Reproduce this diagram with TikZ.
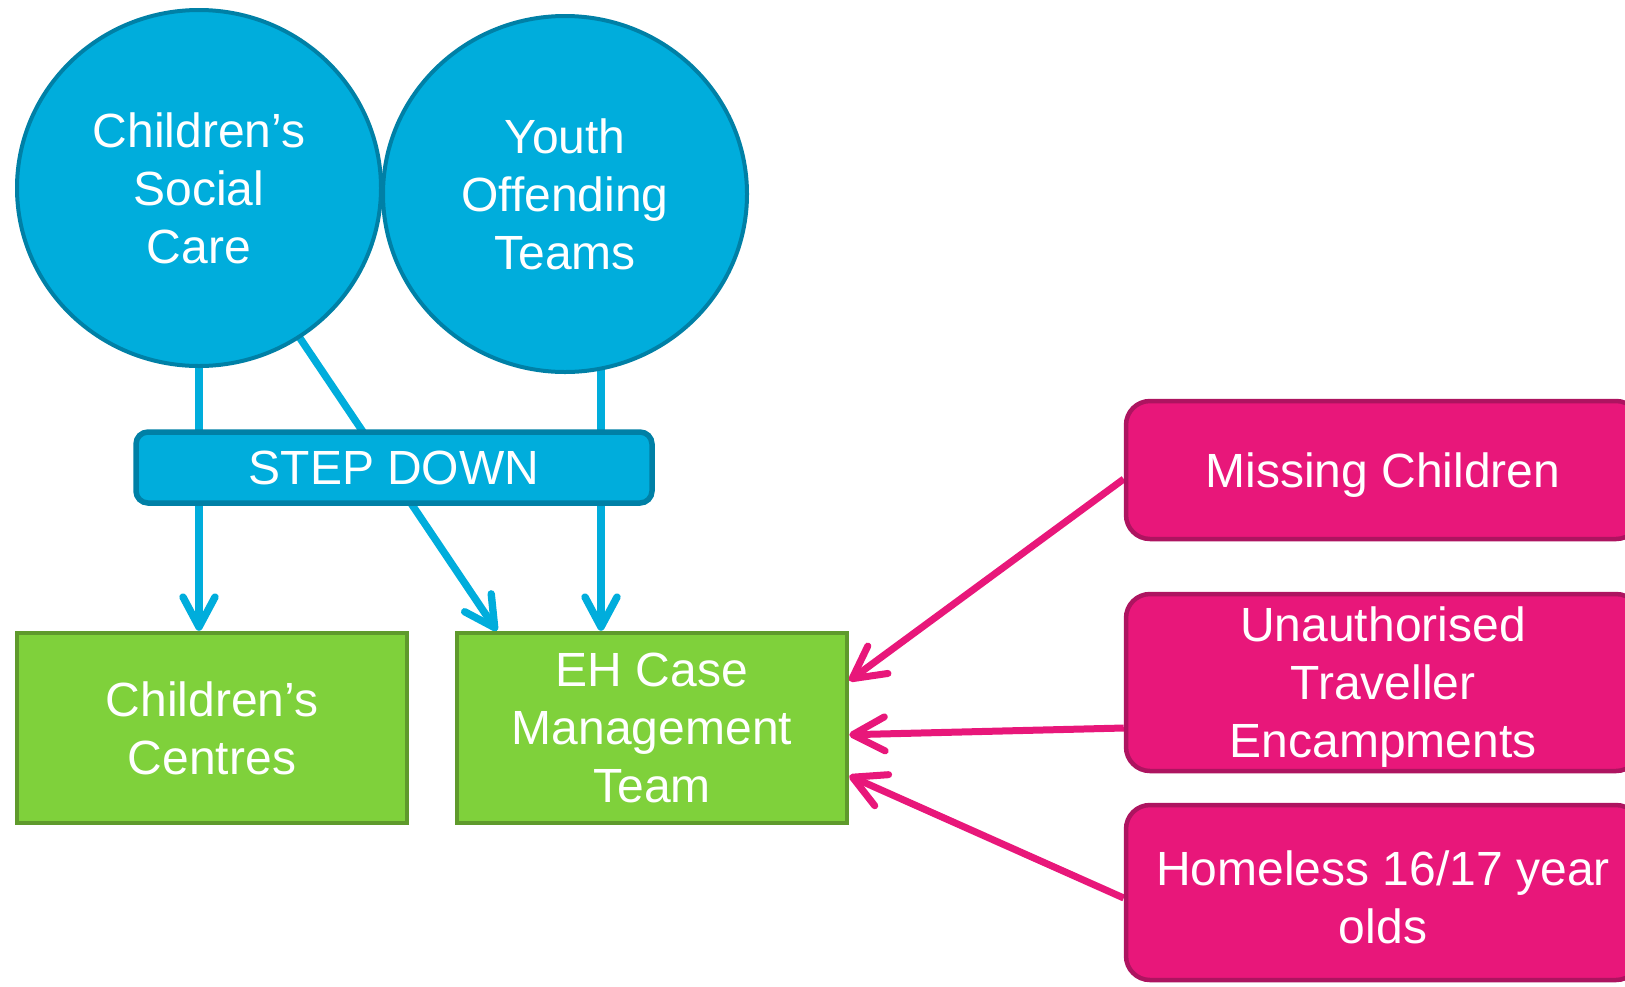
\documentclass[tikz,border=0pt]{standalone}
\usepackage{fontspec}
\setmainfont{Liberation Sans}
\usetikzlibrary{shapes.geometric,arrows.meta,calc}
\pgfdeclarelayer{bg}
\pgfsetlayers{bg,main}
\definecolor{cblue}{HTML}{00ADDC}
\definecolor{cblueedge}{HTML}{0080A6}
\definecolor{cgreen}{HTML}{7FD13B}
\definecolor{cgreenedge}{HTML}{5F9A2C}
\definecolor{cpink}{HTML}{E8177A}
\definecolor{cpinkedge}{HTML}{AD1460}
\begin{document}
\begin{tikzpicture}[x=0.5pt,y=-0.5pt,
  lbl/.style={text=white,font=\fontsize{24}{29}\selectfont,align=center,inner sep=0pt},
  bubble/.style={lbl,ellipse,fill=cblue,draw=cblueedge,line width=2pt,minimum width=182pt,minimum height=178pt},
  greenbox/.style={lbl,rectangle,fill=cgreen,draw=cgreenedge,line width=2.25pt,minimum width=195pt,minimum height=95pt},
  stepbox/.style={lbl,rectangle,rounded corners=6pt,fill=cblue,draw=cblueedge,line width=2.75pt,minimum width=258pt,minimum height=35.5pt},
  pinkbox/.style={rectangle,rounded corners=12pt,fill=cpink,draw=cpinkedge,line width=2.25pt,minimum width=257pt},
  pinktext/.style={lbl,yshift=-2.5pt},
  bluearrow/.style={draw=cblue,line width=3.7pt,-{Straight Barb[length=15pt,width=16pt,line cap=round,line join=round]}},
  pinkarrow/.style={draw=cpink,line width=3.5pt,-{Straight Barb[length=16pt,width=17pt,line cap=round,line join=round]}}
]
\useasboundingbox (0,0) rectangle (1625,986);

\node[bubble] (csc) at (199,188) {Children’s\\Social\\Care};
\node[bubble] (yot) at (565,194) {Youth\\Offending\\Teams};
\node[stepbox] (step) at (394,467.5) {STEP DOWN};
\node[greenbox] (cc) at (212,728) {Children’s\\Centres};
\node[greenbox] (eh) at (652,728) {EH Case\\Management\\Team};
\node[pinkbox,minimum height=69pt,label={[pinktext]center:Missing Children}] (miss) at (1383,470) {};
\node[pinkbox,minimum height=88.5pt,label={[pinktext]center:Unauthorised\\Traveller\\Encampments}] (unauth) at (1383,682.5) {};
\node[pinkbox,minimum height=87.5pt,label={[pinktext]center:Homeless 16/17 year\\olds}] (home) at (1383,892.5) {};

\coordinate (ydrop) at ($(yot.center)+(36,0)$);
\coordinate (ehdiag) at ($(eh.north west)+(42,0)$);
\coordinate (m1) at ($(miss.west)+(0,9)$);
\coordinate (u1) at ($(unauth.west)+(0,45.5)$);
\coordinate (h1) at ($(home.west)+(0,5.5)$);
\coordinate (e1) at ($(eh.north east)+(0,50)$);
\coordinate (e2) at ($(eh.north east)+(0,104)$);
\coordinate (e3) at ($(eh.north east)+(0,145)$);

\begin{pgfonlayer}{bg}
\draw[bluearrow] (csc.center) -- (csc.center |- cc.north);
\draw[bluearrow] (ydrop) -- (ydrop |- eh.north);
\draw[bluearrow] (csc.center) -- (ehdiag);
\draw[pinkarrow] (m1) -- (e1);
\draw[pinkarrow] (u1) -- (e2);
\draw[pinkarrow] (h1) -- (e3);
\end{pgfonlayer}
\end{tikzpicture}
\end{document}
